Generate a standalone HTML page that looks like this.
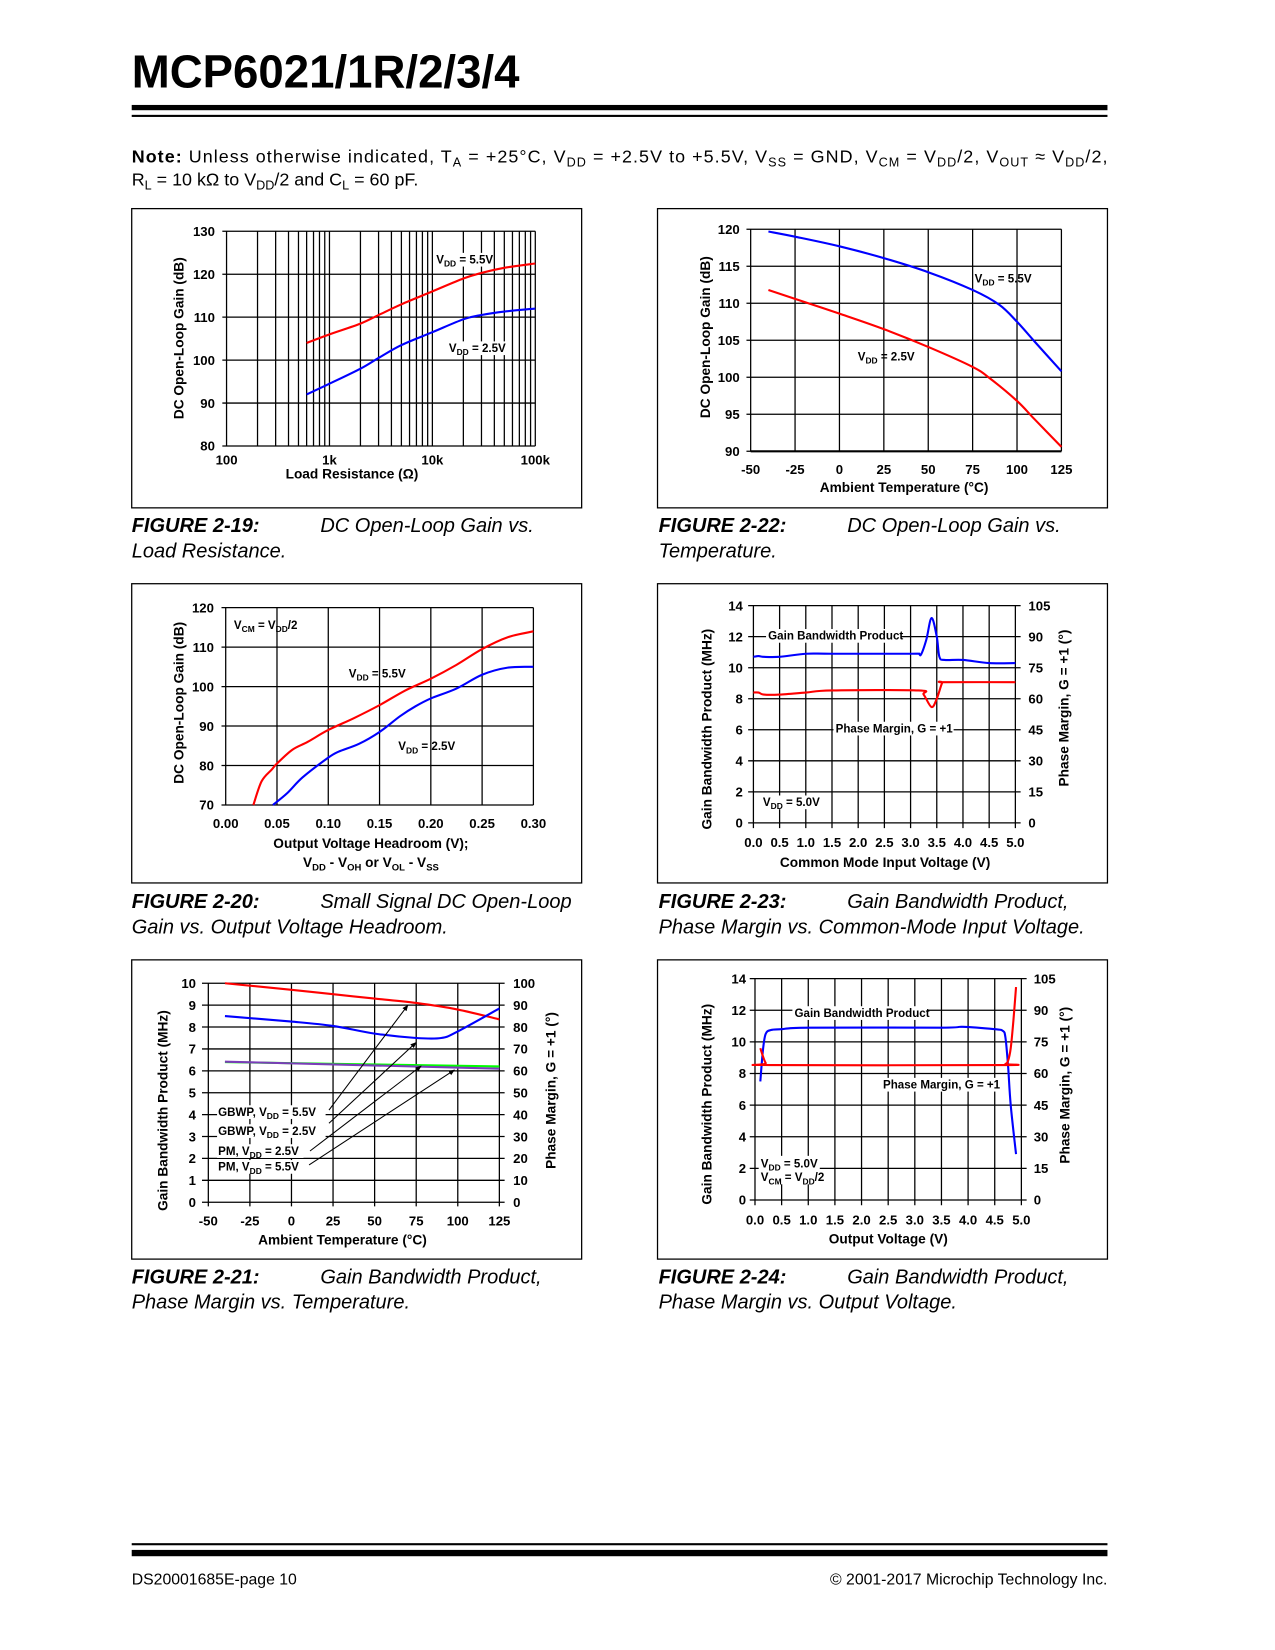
<!DOCTYPE html>
<html><head><meta charset="utf-8">
<style>
html,body{margin:0;padding:0;background:#fff;}
svg{display:block;}
text{font-family:"Liberation Sans",Arial,sans-serif;}
.t{font-weight:bold;font-size:12.5px;fill:#000;}
.at{font-weight:bold;font-size:13px;fill:#000;}
.an{font-weight:bold;font-size:11px;fill:#000;}
.cap{font-style:italic;font-size:19px;fill:#000;}
</style></head>
<body>
<svg id="page" width="1275" height="1650" viewBox="0 0 1210 1566" preserveAspectRatio="none" xmlns="http://www.w3.org/2000/svg">
<rect width="1210" height="1566" fill="#fff"/>
<text x="125" y="83" font-size="44" font-weight="bold" textLength="368" lengthAdjust="spacingAndGlyphs">MCP6021/1R/2/3/4</text>
<rect x="125" y="99.6" width="926" height="5" fill="#000"/>
<rect x="125" y="109" width="926" height="2" fill="#000"/>
<text x="125" y="154" font-size="17" textLength="926" lengthAdjust="spacing"><tspan font-weight="bold">Note:</tspan> Unless otherwise indicated, T<tspan font-size="12" dy="4">A</tspan><tspan dy="-4"> = +25°C, V</tspan><tspan font-size="12" dy="4">DD</tspan><tspan dy="-4"> = +2.5V to +5.5V, V</tspan><tspan font-size="12" dy="4">SS</tspan><tspan dy="-4"> = GND, V</tspan><tspan font-size="12" dy="4">CM</tspan><tspan dy="-4"> = V</tspan><tspan font-size="12" dy="4">DD</tspan><tspan dy="-4">/2, V</tspan><tspan font-size="12" dy="4">OUT</tspan><tspan dy="-4"> ≈ V</tspan><tspan font-size="12" dy="4">DD</tspan><tspan dy="-4">/2,</tspan></text>
<text x="125" y="176" font-size="17">R<tspan font-size="12" dy="4">L</tspan><tspan dy="-4"> = 10 kΩ to V</tspan><tspan font-size="12" dy="4">DD</tspan><tspan dy="-4">/2 and C</tspan><tspan font-size="12" dy="4">L</tspan><tspan dy="-4"> = 60 pF.</tspan></text>
<g id="charts"></g>
<rect x="125" y="1464.6" width="926" height="2" fill="#000"/>
<rect x="125" y="1471" width="926" height="6" fill="#000"/>
<text x="125" y="1504" font-size="15">DS20001685E-page 10</text>
<text x="1051" y="1504" font-size="15" text-anchor="end">© 2001-2017 Microchip Technology Inc.</text>
</svg>
<script>
// ---------- Figure 2-19 data ----------
const f19X = [600,1000,2000,3000,5000,10000,20000,30000,50000,100000];
const f19Red = [104,106,108.5,110.5,113,116,119,120.3,121.5,122.5];
const f19Blue = [92,94.5,98,100.5,103.5,106.5,109.5,110.5,111.3,112];
const f19YTicks = [80,90,100,110,120,130];
const f19XTicks = [100,1000,10000,100000];
const f19XLabels = ["100","1k","10k","100k"];
// ---------- Figure 2-22 data ----------
const f22X = [-40,-25,0,25,50,75,90,100,110,125];
const f22Blue = [119.7,119,117.7,116.1,114.2,111.8,109.8,107.5,104.8,100.8];
const f22XR = [-40,-25,0,25,50,75,85,100,110,125];
const f22Red = [111.8,110.6,108.6,106.5,104.1,101.4,99.8,96.8,94.3,90.6];
const f22XTicks = [-50,-25,0,25,50,75,100,125];
const f22YTicks = [90,95,100,105,110,115,120];
// ---------- Figure 2-20 data ----------
const f20XR = [0.027,0.035,0.045,0.05,0.065,0.08,0.1,0.125,0.15,0.175,0.2,0.225,0.25,0.275,0.3];
const f20Red = [70,76,79,80.5,84,86,89,92,95.3,99,102,105.5,109.5,112.5,114];
const f20XB = [0.046,0.06,0.075,0.1,0.11,0.13,0.15,0.17,0.185,0.2,0.225,0.25,0.275,0.3];
const f20Blue = [70,73,77,82,83.5,85.5,88.5,92.5,95,97,99.5,103,104.8,105];
const f20XTicks = [0,0.05,0.1,0.15,0.2,0.25,0.3];
const f20YTicks = [70,80,90,100,110,120];
// ---------- Figure 2-23 data ----------
const f23XG = [0,0.1,0.2,0.5,1.0,1.5,3.0,3.15,3.2,3.3,3.4,3.5,3.55,3.65,4.0,4.5,5.0];
const f23Gbw = [10.7,10.75,10.7,10.7,10.9,10.9,10.9,10.9,10.85,11.8,13.2,12,10.7,10.5,10.5,10.3,10.3];
const f23XP = [0,0.1,0.2,0.5,1.0,1.5,3.15,3.25,3.4,3.5,3.6,3.65,5.0];
const f23Pm = [63,63,62,62,63,64,64,62,56,60,67.5,68,68];
const f23XTicks = [0,0.5,1,1.5,2,2.5,3,3.5,4,4.5,5];
const f23XLabels = ["0.0","0.5","1.0","1.5","2.0","2.5","3.0","3.5","4.0","4.5","5.0"];
const f23YTicks = [0,2,4,6,8,10,12,14];
const f23Y2Ticks = [0,15,30,45,60,75,90,105];
// ---------- Figure 2-21 data ----------
const f21X = [-40,0,25,50,75,100,125];
const f21Gbw55 = [10,9.7,9.5,9.3,9.1,8.8,8.35];
const f21XB = [-40,0,25,50,75,90,100,125];
const f21Gbw25 = [8.5,8.25,8.05,7.7,7.5,7.5,7.8,8.85];
const f21XP = [-40,125];
const f21Pm25 = [64,62];
const f21Pm55 = [64.2,61];
const f21XTicks = [-50,-25,0,25,50,75,100,125];
const f21YTicks = [0,1,2,3,4,5,6,7,8,9,10];
const f21Y2Ticks = [0,10,20,30,40,50,60,70,80,90,100];
// ---------- Figure 2-24 data ----------
const f24XG = [0.1,0.15,0.2,0.3,0.5,1.0,3.5,3.9,4.5,4.65,4.7,4.75,4.8,4.9];
const f24Gbw = [7.5,9.5,10.5,10.75,10.8,10.9,10.9,10.95,10.8,10.7,10.3,8.5,6,2.9];
const f24XP = [0.1,0.2,0.3,4.6,4.7,4.75,4.8,4.85,4.9];
const f24Pm = [72,65,64,64,64.5,66,72,85,101];

const NS="http://www.w3.org/2000/svg";
const root=document.getElementById('charts');
function lin(d0,d1,r0,r1){return v=>r0+(v-d0)/(d1-d0)*(r1-r0);}
function lg(d0,d1,r0,r1){return v=>r0+(Math.log10(v)-Math.log10(d0))/(Math.log10(d1)-Math.log10(d0))*(r1-r0);}
function smooth(xs,ys,sx,sy){
  const p=xs.map((x,i)=>[sx(x),sy(ys[i])]);
  let d='M'+p[0][0].toFixed(2)+','+p[0][1].toFixed(2);
  for(let i=0;i<p.length-1;i++){
    const p0=p[i-1]||p[i],p1=p[i],p2=p[i+1],p3=p[i+2]||p[i+1];
    const c1=[p1[0]+(p2[0]-p0[0])/6,p1[1]+(p2[1]-p0[1])/6];
    const c2=[p2[0]-(p3[0]-p1[0])/6,p2[1]-(p3[1]-p1[1])/6];
    d+=` C${c1[0].toFixed(2)},${c1[1].toFixed(2)} ${c2[0].toFixed(2)},${c2[1].toFixed(2)} ${p2[0].toFixed(2)},${p2[1].toFixed(2)}`;
  }
  return d;
}
function add(html){root.insertAdjacentHTML('beforeend',html);}
function sub(a,b,c){return `${a}<tspan font-size="8" dy="3">${b}</tspan><tspan dy="-3">${c}</tspan>`;}
function box(name,x,y){add(`<rect x="${x}" y="${y}" width="427" height="284" fill="none" stroke="#000" stroke-width="1.2"/>`);}
function caption(name,x,y,num,l1,l2){
  add(`<text class="cap" x="${x}" y="${y}" font-weight="bold">FIGURE ${num}:</text>`);
  add(`<text class="cap" x="${x+179}" y="${y}">${l1}</text>`);
  add(`<text class="cap" x="${x}" y="${y+24}">${l2}</text>`);
}
function grid(name,L,R,T,B,xv,sx,yv,sy,opts){
  let s='';
  xv.forEach(v=>{const x=sx(v);s+=`<line x1="${x}" y1="${T}" x2="${x}" y2="${B+(opts.xtick||0)}" stroke="#000" stroke-width="1.2"/>`;});
  yv.forEach(v=>{const y=sy(v);s+=`<line x1="${L-(opts.ltick||4)}" y1="${y}" x2="${R+(opts.rtick||0)}" y2="${y}" stroke="#000" stroke-width="1.2"/>`;});
  add(`<g>${s}</g>`);
}
function path(name,d,color){add(`<path d="${d}" fill="none" stroke="${color}" stroke-width="2"/>`);}
function yLabels(name,vals,sy,x,anchor){vals.forEach(v=>add(`<text class="t" x="${x}" y="${sy(v)+4.5}" text-anchor="${anchor}">${v}</text>`));}
function xLabels(name,vals,labels,sx,y){vals.forEach((v,i)=>add(`<text class="t" x="${sx(v)}" y="${y}" text-anchor="middle">${labels[i]}</text>`));}
function vtitle(name,x,y,t,cls){add(`<text class="${cls||'at'}" transform="translate(${x},${y}) rotate(-90)" text-anchor="middle">${t}</text>`);}
function htitle(name,x,y,t){add(`<text class="at" x="${x}" y="${y}" text-anchor="middle">${t}</text>`);}
function ann(name,x,y,inner,bg,w){
  if(bg) add(`<rect x="${x-2}" y="${y-10}" width="${w}" height="13" fill="#fff"/>`);
  add(`<text class="an" x="${x}" y="${y}">${inner}</text>`);
}

// ===== Figure 2-19 =====
(function(){
  const L=215,R=508,T=219.5,B=423.3;
  const sx=lg(100,100000,L,R), sy=lin(80,130,B,T);
  box('fig-2-19',125,198);
  const vx=[];for(let d=100;d<100000;d*=10)for(let k=1;k<10;k++)vx.push(d*k);vx.push(100000);
  grid('fig-2-19',L,R,T,B,vx,sx,f19YTicks,sy,{ltick:4});
  path('fig-2-19-vdd55-line',smooth(f19X,f19Red,sx,sy),'#f00');
  path('fig-2-19-vdd25-line',smooth(f19X,f19Blue,sx,sy),'#00f');
  yLabels('fig-2-19-y-tick',f19YTicks,sy,204,'end');
  xLabels('fig-2-19-x-tick',f19XTicks,f19XLabels,sx,441);
  htitle('fig-2-19-x-axis-title',334,454,'Load Resistance (Ω)');
  vtitle('fig-2-19-y-axis-title',174,321,'DC Open-Loop Gain (dB)');
  ann('fig-2-19-label-vdd55',414,250,sub('V','DD',' = 5.5V'),true,56);
  ann('fig-2-19-label-vdd25',426,334,sub('V','DD',' = 2.5V'),true,56);
  caption('fig-2-19',125,505,'2-19','DC Open-Loop Gain vs.','Load Resistance.');
})();

// ===== Figure 2-22 =====
(function(){
  const L=712.4,R=1007.3,T=217.6,B=428.3;
  const sx=lin(-50,125,L,R), sy=lin(90,120,B,T);
  box('fig-2-22',624,198);
  grid('fig-2-22',L,R,T,B,f22XTicks,sx,f22YTicks,sy,{ltick:4});
  add(`<line x1="${L}" y1="${B}" x2="${R}" y2="${B}" stroke="#000" stroke-width="2"/>`);
  path('fig-2-22-vdd55-line',smooth(f22X,f22Blue,sx,sy),'#00f');
  path('fig-2-22-vdd25-line',smooth(f22XR,f22Red,sx,sy),'#f00');
  yLabels('fig-2-22-y-tick',f22YTicks,sy,702,'end');
  xLabels('fig-2-22-x-tick',f22XTicks,f22XTicks.map(String),sx,450);
  htitle('fig-2-22-x-axis-title',858,467,'Ambient Temperature (°C)');
  vtitle('fig-2-22-y-axis-title',674,320,'DC Open-Loop Gain (dB)');
  ann('fig-2-22-label-vdd55',925,268,sub('V','DD',' = 5.5V'),false);
  ann('fig-2-22-label-vdd25',814,342,sub('V','DD',' = 2.5V'),false);
  caption('fig-2-22',625,505,'2-22','DC Open-Loop Gain vs.','Temperature.');
})();

// ===== Figure 2-20 =====
(function(){
  const L=214.2,R=506.2,T=576.7,B=764;
  const sx=lin(0,0.3,L,R), sy=lin(70,120,B,T);
  box('fig-2-20',125,554);
  grid('fig-2-20',L,R,T,B,f20XTicks,sx,f20YTicks,sy,{ltick:4});
  path('fig-2-20-vdd55-line',smooth(f20XR,f20Red,sx,sy),'#f00');
  path('fig-2-20-vdd25-line',smooth(f20XB,f20Blue,sx,sy),'#00f');
  yLabels('fig-2-20-y-tick',f20YTicks,sy,203,'end');
  xLabels('fig-2-20-x-tick',f20XTicks,["0.00","0.05","0.10","0.15","0.20","0.25","0.30"],sx,786);
  htitle('fig-2-20-x-axis-title',352,805,'Output Voltage Headroom (V);');
  add(`<text class="at" x="352" y="823" text-anchor="middle">V<tspan font-size="9" dy="3">DD</tspan><tspan dy="-3"> - V</tspan><tspan font-size="9" dy="3">OH</tspan><tspan dy="-3"> or V</tspan><tspan font-size="9" dy="3">OL</tspan><tspan dy="-3"> - V</tspan><tspan font-size="9" dy="3">SS</tspan></text>`);
  vtitle('fig-2-20-y-axis-title',174,667,'DC Open-Loop Gain (dB)');
  ann('fig-2-20-label-vcm',222,597,sub('V','CM',' = V')+'<tspan font-size="8" dy="3">DD</tspan><tspan dy="-3">/2</tspan>',false);
  ann('fig-2-20-label-vdd55',331,643,sub('V','DD',' = 5.5V'),false);
  ann('fig-2-20-label-vdd25',378,712,sub('V','DD',' = 2.5V'),false);
  caption('fig-2-20',125,862,'2-20','Small Signal DC Open-Loop','Gain vs. Output Voltage Headroom.');
})();

// ===== Figure 2-23 =====
(function(){
  const L=715,R=963.6,T=574.8,B=781;
  const sx=lin(0,5,L,R), sy=lin(0,14,B,T), sy2=lin(0,105,B,T);
  box('fig-2-23',624,554);
  grid('fig-2-23',L,R,T,B,f23XTicks,sx,f23YTicks,sy,{ltick:5,rtick:5,xtick:5});
  ann('fig-2-23-label-gbwp',729,607,'Gain Bandwidth Product',true,128);
  ann('fig-2-23-label-pm',793,695,'Phase Margin,  G = +1',true,114);
  ann('fig-2-23-label-vdd',724,765,sub('V','DD',' = 5.0V'),true,56);
  path('fig-2-23-gbwp-line',smooth(f23XG,f23Gbw,sx,sy),'#00f');
  path('fig-2-23-pm-line',smooth(f23XP,f23Pm,sx,sy2),'#f00');
  yLabels('fig-2-23-y-tick',f23YTicks,sy,705,'end');
  yLabels('fig-2-23-y2-tick',f23Y2Ticks,sy2,976,'start');
  xLabels('fig-2-23-x-tick',f23XTicks,f23XLabels,sx,804);
  htitle('fig-2-23-x-axis-title',840,823,'Common Mode Input Voltage (V)');
  vtitle('fig-2-23-y-axis-title',675,692,'Gain Bandwidth Product (MHz)');
  vtitle('fig-2-23-y2-axis-title',1014,672,'Phase Margin, G = +1 (°)');
  caption('fig-2-23',625,862,'2-23','Gain Bandwidth Product,','Phase Margin vs. Common-Mode Input Voltage.');
})();

// ===== Figure 2-21 =====
(function(){
  const L=197.7,R=473.9,T=933.2,B=1141;
  const sx=lin(-50,125,L,R), sy=lin(0,10,B,T), sy2=lin(0,100,B,T);
  box('fig-2-21',125,911);
  grid('fig-2-21',L,R,T,B,f21XTicks,sx,f21YTicks,sy,{ltick:6,rtick:5,xtick:4});
  path('fig-2-21-gbwp-vdd55-line',smooth(f21X,f21Gbw55,sx,sy),'#f00');
  path('fig-2-21-gbwp-vdd25-line',smooth(f21XB,f21Gbw25,sx,sy),'#00f');
  path('fig-2-21-pm-vdd25-line',smooth(f21XP,f21Pm25,sx,sy2),'#0f0');
  path('fig-2-21-pm-vdd55-line',smooth(f21XP,f21Pm55,sx,sy2),'#7a3db8');
  yLabels('fig-2-21-y-tick',f21YTicks,sy,186,'end');
  yLabels('fig-2-21-y2-tick',f21Y2Ticks,sy2,487,'start');
  xLabels('fig-2-21-x-tick',f21XTicks,f21XTicks.map(String),sx,1163);
  htitle('fig-2-21-x-axis-title',325,1181,'Ambient Temperature (°C)');
  vtitle('fig-2-21-y-axis-title',159,1054,'Gain Bandwidth Product (MHz)');
  vtitle('fig-2-21-y2-axis-title',527,1035,'Phase Margin, G = +1 (°)');
  const labs=[['fig-2-21-label-gbwp55','GBWP, ','V','DD',' = 5.5V',207,1059],['fig-2-21-label-gbwp25','GBWP, ','V','DD',' = 2.5V',207,1077],['fig-2-21-label-pm25','PM, ','V','DD',' = 2.5V',207,1096],['fig-2-21-label-pm55','PM, ','V','DD',' = 5.5V',207,1111]];
  labs.forEach(l=>{add(`<rect x="${l[5]-1}" y="${l[6]-10}" width="${l[1].length>4?103:82}" height="13" fill="#fff"/>`);ann(l[0],l[5],l[6],l[1]+sub(l[2],l[3],l[4]),false);});
  add(`<defs><marker id="ah" viewBox="0 0 10 10" refX="9" refY="5" markerWidth="6" markerHeight="6" orient="auto"><path d="M0,1 L10,5 L0,9 z" fill="#000"/></marker></defs>`);
  const arrows=[[312.2,1053.5,70,9.0,'gbwp55'],[312.2,1066.1,75,7.3,'gbwp25'],[294.2,1092.4,78,6.22,'pm25'],[293.3,1105.6,98,6.04,'pm55']];
  arrows.forEach(a=>add(`<line x1="${a[0]}" y1="${a[1]}" x2="${sx(a[2])}" y2="${sy(a[3])}" stroke="#000" stroke-width="1" marker-end="url(#ah)"/>`));
  caption('fig-2-21',125,1218,'2-21','Gain Bandwidth Product,','Phase Margin vs. Temperature.');
})();

// ===== Figure 2-24 =====
(function(){
  const L=716.5,R=969.3,T=928.8,B=1138.9;
  const sx=lin(0,5,L,R), sy=lin(0,14,B,T), sy2=lin(0,105,B,T);
  box('fig-2-24',624,911);
  grid('fig-2-24',L,R,T,B,f23XTicks,sx,f23YTicks,sy,{ltick:5,rtick:5,xtick:5});
  ann('fig-2-24-label-gbwp',754,965,'Gain Bandwidth Product',true,128);
  ann('fig-2-24-label-pm',838,1033,'Phase Margin,  G = +1',true,114);
  add(`<rect x="720" y="1097" width="58" height="27" fill="#fff"/>`);
  ann('fig-2-24-label-vdd',722,1108,sub('V','DD',' = 5.0V'),false);
  ann('fig-2-24-label-vcm',722,1121,sub('V','CM',' = V')+'<tspan font-size="8" dy="3">DD</tspan><tspan dy="-3">/2</tspan>',false);
  path('fig-2-24-gbwp-line',smooth(f24XG,f24Gbw,sx,sy),'#00f');
  path('fig-2-24-pm-line',smooth(f24XP,f24Pm,sx,sy2),'#f00');
  yLabels('fig-2-24-y-tick',f23YTicks,sy,708,'end');
  yLabels('fig-2-24-y2-tick',f23Y2Ticks,sy2,981,'start');
  xLabels('fig-2-24-x-tick',f23XTicks,f23XLabels,sx,1162);
  htitle('fig-2-24-x-axis-title',843,1180,'Output Voltage (V)');
  vtitle('fig-2-24-y-axis-title',675,1048,'Gain Bandwidth Product (MHz)');
  vtitle('fig-2-24-y2-axis-title',1015,1030,'Phase Margin, G = +1 (°)');
  caption('fig-2-24',625,1218,'2-24','Gain Bandwidth Product,','Phase Margin vs. Output Voltage.');
})();
</script>
</body></html>
